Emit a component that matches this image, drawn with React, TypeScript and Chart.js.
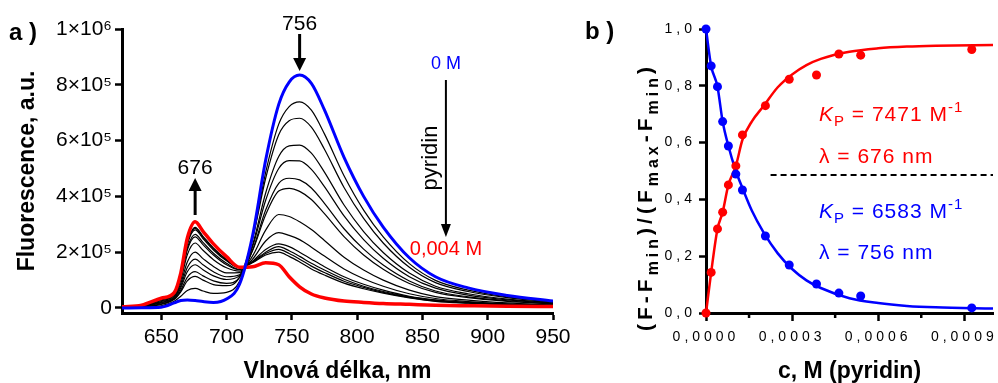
import React, { useEffect, useRef } from "react";
import { Chart, registerables } from "chart.js";

Chart.register(...registerables);

const FONT = '"Liberation Sans", Arial, Helvetica, sans-serif';
const RED = "#ff0000";
const BLUE = "#0000ff";

// ---------------- Panel a: emission spectra (values in units of 10^5) ----------------
const WAVELENGTHS = [620, 635, 650, 660, 665, 670, 676, 682, 690, 700, 710, 720, 730, 740, 748, 756, 765, 775, 790, 805, 820, 840, 860, 885, 915, 950];
const SPECTRUM_0M = [0.0, 0.01, 0.03, 0.18, 0.27, 0.29, 0.27, 0.23, 0.2, 0.32, 0.85, 2.6, 5.3, 7.3, 8.1, 8.35, 8.05, 7.1, 5.4, 4.0, 2.9, 1.8, 1.12, 0.72, 0.45, 0.25];
const SPECTRUM_0004M = [0.04, 0.1, 0.35, 0.55, 1.25, 2.5, 3.09, 2.75, 2.3, 1.84, 1.46, 1.48, 1.62, 1.55, 1.12, 0.76, 0.5, 0.36, 0.25, 0.2, 0.16, 0.13, 0.1, 0.08, 0.06, 0.05];
const SPECTRUM_01 = [0.01, 0.02, 0.08, 0.24, 0.42, 0.63, 0.7, 0.61, 0.52, 0.56, 0.96, 2.49, 4.86, 6.59, 7.22, 7.39, 7.09, 6.24, 4.74, 3.51, 2.55, 1.59, 0.99, 0.64, 0.4, 0.23];
const SPECTRUM_02 = [0.01, 0.04, 0.13, 0.31, 0.58, 0.97, 1.13, 1.0, 0.84, 0.8, 1.1, 2.49, 4.65, 6.21, 6.71, 6.8, 6.48, 5.69, 4.32, 3.21, 2.33, 1.46, 0.91, 0.59, 0.37, 0.21];
const SPECTRUM_03 = [0.01, 0.04, 0.15, 0.32, 0.63, 1.1, 1.3, 1.15, 0.97, 0.88, 1.1, 2.27, 4.12, 5.43, 5.81, 5.84, 5.55, 4.87, 3.69, 2.74, 1.99, 1.25, 0.78, 0.51, 0.32, 0.19];
const SPECTRUM_04 = [0.02, 0.05, 0.18, 0.35, 0.72, 1.3, 1.55, 1.37, 1.15, 1.02, 1.16, 2.2, 3.86, 5.0, 5.28, 5.27, 4.97, 4.35, 3.3, 2.45, 1.78, 1.12, 0.71, 0.46, 0.29, 0.17];
const SPECTRUM_05 = [0.02, 0.06, 0.2, 0.38, 0.79, 1.45, 1.75, 1.55, 1.3, 1.12, 1.19, 2.08, 3.51, 4.47, 4.65, 4.59, 4.3, 3.75, 2.84, 2.11, 1.54, 0.97, 0.61, 0.4, 0.26, 0.15];
const SPECTRUM_06 = [0.02, 0.07, 0.23, 0.41, 0.88, 1.65, 2.0, 1.77, 1.49, 1.26, 1.27, 2.06, 3.34, 4.19, 4.29, 4.18, 3.89, 3.38, 2.56, 1.9, 1.39, 0.88, 0.56, 0.37, 0.24, 0.14];
const SPECTRUM_07 = [0.03, 0.08, 0.26, 0.45, 0.99, 1.91, 2.33, 2.07, 1.73, 1.44, 1.32, 1.87, 2.79, 3.35, 3.28, 3.09, 2.81, 2.42, 1.82, 1.36, 1.0, 0.64, 0.41, 0.28, 0.18, 0.11];
const SPECTRUM_08 = [0.03, 0.08, 0.29, 0.48, 1.07, 2.08, 2.55, 2.27, 1.9, 1.55, 1.37, 1.75, 2.4, 2.7, 2.6, 2.45, 2.18, 1.86, 1.4, 1.05, 0.78, 0.51, 0.34, 0.23, 0.15, 0.1];
const SPECTRUM_09 = [0.03, 0.09, 0.3, 0.49, 1.1, 2.15, 2.64, 2.35, 1.96, 1.6, 1.38, 1.68, 2.1, 2.3, 2.2, 2.0, 1.75, 1.48, 1.12, 0.85, 0.64, 0.42, 0.29, 0.2, 0.13, 0.09];
const SPECTRUM_10 = [0.04, 0.09, 0.32, 0.52, 1.16, 2.28, 2.8, 2.49, 2.08, 1.69, 1.44, 1.66, 2.0, 2.2, 2.05, 1.85, 1.6, 1.36, 1.03, 0.78, 0.59, 0.4, 0.27, 0.19, 0.13, 0.09];
const SPECTRUM_11 = [0.04, 0.09, 0.32, 0.53, 1.18, 2.32, 2.85, 2.54, 2.12, 1.72, 1.45, 1.64, 1.95, 2.1, 1.95, 1.75, 1.5, 1.27, 0.96, 0.74, 0.56, 0.38, 0.25, 0.18, 0.12, 0.08];
const SPECTRUM_12 = [0.04, 0.09, 0.33, 0.53, 1.19, 2.35, 2.89, 2.57, 2.15, 1.74, 1.46, 1.62, 1.9, 2.0, 1.85, 1.65, 1.4, 1.18, 0.89, 0.69, 0.53, 0.36, 0.24, 0.17, 0.11, 0.08];
const TITRATION_SPECTRA = [SPECTRUM_01, SPECTRUM_02, SPECTRUM_03, SPECTRUM_04, SPECTRUM_05, SPECTRUM_06, SPECTRUM_07, SPECTRUM_08, SPECTRUM_09, SPECTRUM_10, SPECTRUM_11, SPECTRUM_12];

const X_TICKS_A = [650, 700, 750, 800, 850, 900, 950];
const Y_TICKS_A = [0, 2, 4, 6, 8, 10];
const Y_TICK_LABELS_A = ["0", "2×10⁵", "4×10⁵", "6×10⁵", "8×10⁵", "1×10⁶"];

// ---------------- Panel b: normalised titration ----------------
const CONC = [0, 1.8e-5, 4.0e-5, 5.8e-5, 7.8e-5, 1.04e-4, 1.27e-4, 2.07e-4, 2.9e-4, 3.85e-4, 4.63e-4, 5.39e-4, 9.26e-4];
const NORM_756 = [1.0, 0.87, 0.797, 0.674, 0.588, 0.489, 0.433, 0.271, 0.169, 0.102, 0.07, 0.06, 0.018];
const NORM_676 = [0.0, 0.143, 0.296, 0.355, 0.451, 0.518, 0.627, 0.73, 0.823, 0.838, 0.912, 0.908, 0.928];
const FIT_CONC = [0, 1.8e-5, 4.0e-5, 5.8e-5, 7.8e-5, 1.04e-4, 1.27e-4, 1.6e-4, 2.0e-4, 2.5e-4, 3.0e-4, 3.5e-4, 4.0e-4, 5.0e-4, 6.0e-4, 7.0e-4, 8.0e-4, 1.0e-3];
const FIT_756 = [1.0, 0.87, 0.797, 0.674, 0.588, 0.5, 0.44, 0.36, 0.285, 0.21, 0.155, 0.115, 0.088, 0.052, 0.035, 0.025, 0.02, 0.016];
const FIT_676 = [0.0, 0.143, 0.296, 0.355, 0.451, 0.518, 0.61, 0.675, 0.728, 0.795, 0.84, 0.873, 0.895, 0.92, 0.932, 0.938, 0.941, 0.944];
const DIVIDER_CONC = [2.25e-4, 1.0e-3];
const DIVIDER_LEVEL = 0.486;

const X_TICKS_B = [0, 0.00015, 0.0003, 0.00045, 0.0006, 0.00075, 0.0009];
const X_TICK_LABELS_B = ["0,0000", "", "0,0003", "", "0,0006", "", "0,0009"];
const Y_TICKS_B = [0, 0.2, 0.4, 0.6, 0.8, 1.0];
const Y_TICK_LABELS_B = ["0,0", "0,2", "0,4", "0,6", "0,8", "1,0"];

function pts(xs: number[], ys: number[]) {
  return xs.map((x, i) => ({ x, y: ys[i] }));
}

function arrow(ctx: CanvasRenderingContext2D, x: number, yFrom: number, yTo: number, lw: number, headLen: number, headHalf: number) {
  const dir = Math.sign(yTo - yFrom);
  ctx.save();
  ctx.strokeStyle = "#000";
  ctx.fillStyle = "#000";
  ctx.lineWidth = lw;
  ctx.beginPath();
  ctx.moveTo(x, yFrom);
  ctx.lineTo(x, yTo - dir * (headLen - 1));
  ctx.stroke();
  ctx.beginPath();
  ctx.moveTo(x, yTo);
  ctx.lineTo(x - headHalf, yTo - dir * headLen);
  ctx.lineTo(x + headHalf, yTo - dir * headLen);
  ctx.closePath();
  ctx.fill();
  ctx.restore();
}

type Part = { t: string; font: string; dy?: number };
function richText(ctx: CanvasRenderingContext2D, x: number, y: number, parts: Part[]) {
  let cx = x;
  for (const p of parts) {
    ctx.font = p.font;
    ctx.fillText(p.t, cx, y + (p.dy || 0));
    cx += ctx.measureText(p.t).width;
  }
}
function richWidth(ctx: CanvasRenderingContext2D, parts: Part[]) {
  let w = 0;
  for (const p of parts) {
    ctx.font = p.font;
    w += ctx.measureText(p.t).width;
  }
  return w;
}

const annotationsA = {
  id: "annotationsA",
  afterDraw(chart: any) {
    const { ctx, scales } = chart;
    const x = scales.x;
    ctx.save();
    ctx.fillStyle = "#000";
    ctx.textBaseline = "middle";
    ctx.textAlign = "left";
    ctx.font = `bold 24px ${FONT}`;
    ctx.fillText("a )", 9, 33);

    ctx.textAlign = "center";
    ctx.font = `21px ${FONT}`;
    const x756 = x.getPixelForValue(756);
    ctx.fillText("756", x756, 24);
    arrow(ctx, x756, 34, 71, 3, 13, 6.5);

    const x676 = x.getPixelForValue(676);
    ctx.fillText("676", x676, 168);
    arrow(ctx, x676, 215, 178, 3, 13, 6.5);

    const xp = x.getPixelForValue(868);
    ctx.fillStyle = BLUE;
    ctx.font = `18px ${FONT}`;
    ctx.fillText("0 M", xp, 64);
    arrow(ctx, xp, 80, 237, 2, 13, 5);
    ctx.fillStyle = RED;
    ctx.font = `20px ${FONT}`;
    ctx.fillText("0,004 M", xp, 249);

    ctx.fillStyle = "#000";
    ctx.font = `22px ${FONT}`;
    ctx.translate(xp - 15, 158);
    ctx.rotate(-Math.PI / 2);
    ctx.fillText("pyridin", 0, 0);
    ctx.restore();
  },
};

const annotationsB = {
  id: "annotationsB",
  beforeDraw(chart: any) {
    (chart.ctx as any).letterSpacing = "4px";
  },
  afterDraw(chart: any) {
    const { ctx, chartArea, scales } = chart;
    (ctx as any).letterSpacing = "0px";
    ctx.save();

    // minor ticks on the concentration axis
    ctx.strokeStyle = "#000";
    ctx.lineWidth = 2.5;
    X_TICKS_B.forEach((v, i) => {
      if (X_TICK_LABELS_B[i] === "") {
        const px = scales.x.getPixelForValue(v);
        ctx.beginPath();
        ctx.moveTo(px, chartArea.bottom);
        ctx.lineTo(px, chartArea.bottom + 5);
        ctx.stroke();
      }
    });

    ctx.fillStyle = "#000";
    ctx.textBaseline = "middle";
    ctx.textAlign = "left";
    ctx.font = `bold 24px ${FONT}`;
    ctx.fillText("b )", 5, 32);

    // x title
    ctx.textAlign = "center";
    ctx.font = `bold 23px ${FONT}`;
    ctx.fillText("c, M (pyridin)", (chartArea.left + chartArea.right) / 2, 372);

    // y title with subscripts
    ctx.textAlign = "left";
    ctx.textBaseline = "alphabetic";
    (ctx as any).letterSpacing = "4px";
    const big = `bold 21px ${FONT}`;
    const small = `bold 16px ${FONT}`;
    const parts: Part[] = [
      { t: "(F-F", font: big },
      { t: "min", font: small, dy: 6 },
      { t: ")/(F", font: big },
      { t: "max", font: small, dy: 6 },
      { t: "-F", font: big },
      { t: "min", font: small, dy: 6 },
      { t: ")", font: big },
    ];
    const w = richWidth(ctx, parts);
    ctx.save();
    ctx.translate(72, 197);
    ctx.rotate(-Math.PI / 2);
    richText(ctx, -w / 2, 0, parts);
    ctx.restore();

    // fit annotations
    (ctx as any).letterSpacing = "1px";
    const tx = 239;
    const n = `21px ${FONT}`;
    const it = `italic 21px ${FONT}`;
    const sm = `15px ${FONT}`;
    ctx.fillStyle = RED;
    richText(ctx, tx, 121, [
      { t: "K", font: it },
      { t: "P", font: sm, dy: 5 },
      { t: " = 7471 M", font: n },
      { t: "-1", font: sm, dy: -9 },
    ]);
    richText(ctx, tx, 163, [{ t: "λ = 676 nm", font: n }]);
    ctx.fillStyle = BLUE;
    richText(ctx, tx, 218, [
      { t: "K", font: it },
      { t: "P", font: sm, dy: 5 },
      { t: " = 6583 M", font: n },
      { t: "-1", font: sm, dy: -9 },
    ]);
    richText(ctx, tx, 259, [{ t: "λ = 756 nm", font: n }]);
    (ctx as any).letterSpacing = "0px";
    ctx.restore();
  },
};

function LeftPanel() {
  const ref = useRef<HTMLCanvasElement>(null);
  useEffect(() => {
    const datasets: any[] = [
      { data: pts(WAVELENGTHS, SPECTRUM_0M), borderColor: BLUE, borderWidth: 3 },
      { data: pts(WAVELENGTHS, SPECTRUM_0004M), borderColor: RED, borderWidth: 3.5 },
      ...TITRATION_SPECTRA.map((s) => ({ data: pts(WAVELENGTHS, s), borderColor: "#000", borderWidth: 1.2 })),
    ].map((d) => ({ ...d, pointRadius: 0, cubicInterpolationMode: "monotone", fill: false }));
    const chart = new Chart(ref.current!, {
      type: "line",
      data: { datasets },
      plugins: [annotationsA],
      options: {
        animation: false,
        responsive: false,
        events: [],
        layout: { padding: { top: 29, right: 27, left: 0, bottom: 0 } },
        plugins: { legend: { display: false }, tooltip: { enabled: false } },
        scales: {
          x: {
            type: "linear",
            min: 620,
            max: 950,
            afterBuildTicks: (s: any) => {
              s.ticks = X_TICKS_A.map((v) => ({ value: v }));
            },
            afterFit: (s: any) => {
              s.height = 70;
            },
            grid: { display: true, drawOnChartArea: false, drawTicks: true, tickLength: 7, tickWidth: 2.5, tickColor: "#000" },
            border: { display: true, color: "#000", width: 3 },
            ticks: { color: "#000", font: { family: FONT, size: 21 }, padding: 5, autoSkip: false, maxRotation: 0, callback: (v: any) => String(v) },
            title: { display: true, text: "Vlnová délka, nm", color: "#000", font: { family: FONT, size: 23, weight: "bold", lineHeight: 1 }, padding: { top: 0, bottom: 0 } },
          },
          y: {
            type: "linear",
            min: -0.18,
            max: 10,
            afterBuildTicks: (s: any) => {
              s.ticks = Y_TICKS_A.map((v) => ({ value: v }));
            },
            afterFit: (s: any) => {
              s.width = 122;
            },
            grid: { display: true, drawOnChartArea: false, drawTicks: true, tickLength: 7, tickWidth: 2.5, tickColor: "#000" },
            border: { display: true, color: "#000", width: 3 },
            ticks: {
              color: "#000",
              font: { family: FONT, size: 21 },
              padding: 3,
              autoSkip: false,
              callback: (v: any) => {
                const i = Y_TICKS_A.indexOf(v);
                return i >= 0 ? Y_TICK_LABELS_A[i] : "";
              },
            },
            title: { display: true, text: "Fluorescence, a.u.", color: "#000", font: { family: FONT, size: 23, weight: "bold", lineHeight: 1 }, padding: { top: 16.5, bottom: 0 } },
          },
        },
      } as any,
    });
    return () => chart.destroy();
  }, []);
  return <canvas ref={ref} width={580} height={383} style={{ position: "absolute", left: 0, top: 0, display: "block" }} />;
}

function RightPanel() {
  const ref = useRef<HTMLCanvasElement>(null);
  useEffect(() => {
    const chart = new Chart(ref.current!, {
      type: "line",
      data: {
        datasets: [
          { data: pts(CONC, NORM_756), showLine: false, pointRadius: 4.5, pointBackgroundColor: BLUE, pointBorderWidth: 0, borderColor: BLUE, clip: false },
          { data: pts(CONC, NORM_676), showLine: false, pointRadius: 4.5, pointBackgroundColor: RED, pointBorderWidth: 0, borderColor: RED, clip: false },
          { data: pts(FIT_CONC, FIT_756), borderColor: BLUE, borderWidth: 2.5, pointRadius: 0, cubicInterpolationMode: "monotone", clip: false },
          { data: pts(FIT_CONC, FIT_676), borderColor: RED, borderWidth: 2.5, pointRadius: 0, cubicInterpolationMode: "monotone", clip: false },
          {
            data: DIVIDER_CONC.map((c) => ({ x: c, y: DIVIDER_LEVEL })),
            borderColor: "#000",
            borderWidth: 2,
            borderDash: [6, 4],
            pointRadius: 0,
          },
        ],
      },
      plugins: [annotationsB],
      options: {
        animation: false,
        responsive: false,
        events: [],
        layout: { padding: { top: 29, right: 5, left: 0, bottom: 0 } },
        plugins: { legend: { display: false }, tooltip: { enabled: false } },
        scales: {
          x: {
            type: "linear",
            min: 0,
            max: 0.001,
            afterBuildTicks: (s: any) => {
              s.ticks = X_TICKS_B.map((v) => ({ value: v }));
            },
            afterFit: (s: any) => {
              s.height = 70;
            },
            grid: {
              display: true,
              drawOnChartArea: false,
              drawTicks: true,
              tickLength: 8,
              tickWidth: 2.5,
              tickColor: (c: any) => (X_TICK_LABELS_B[c.index] === "" ? "rgba(0,0,0,0)" : "#000"),
            },
            border: { display: true, color: "#000", width: 3 },
            ticks: {
              color: "#000",
              font: { family: FONT, size: 14 },
              padding: 8,
              autoSkip: false,
              maxRotation: 0,
              callback: (_v: any, i: number) => X_TICK_LABELS_B[i],
            },
            title: { display: false },
          },
          y: {
            type: "linear",
            min: 0,
            max: 1,
            afterBuildTicks: (s: any) => {
              s.ticks = Y_TICKS_B.map((v) => ({ value: v }));
            },
            afterFit: (s: any) => {
              s.width = 126;
            },
            grid: { display: true, drawOnChartArea: false, drawTicks: true, tickLength: 7, tickWidth: 2.5, tickColor: "#000" },
            border: { display: true, color: "#000", width: 3 },
            ticks: {
              color: "#000",
              font: { family: FONT, size: 14 },
              padding: 3,
              autoSkip: false,
              callback: (_v: any, i: number) => Y_TICK_LABELS_B[i],
            },
            title: { display: false },
          },
        },
      } as any,
    });
    return () => chart.destroy();
  }, []);
  return <canvas ref={ref} width={418} height={383} style={{ position: "absolute", left: 580, top: 0, display: "block" }} />;
}

export default function App() {
  return (
    <div style={{ position: "absolute", left: 0, top: 0, width: 998, height: 383, background: "#fff", overflow: "hidden" }}>
      <LeftPanel />
      <RightPanel />
    </div>
  );
}
